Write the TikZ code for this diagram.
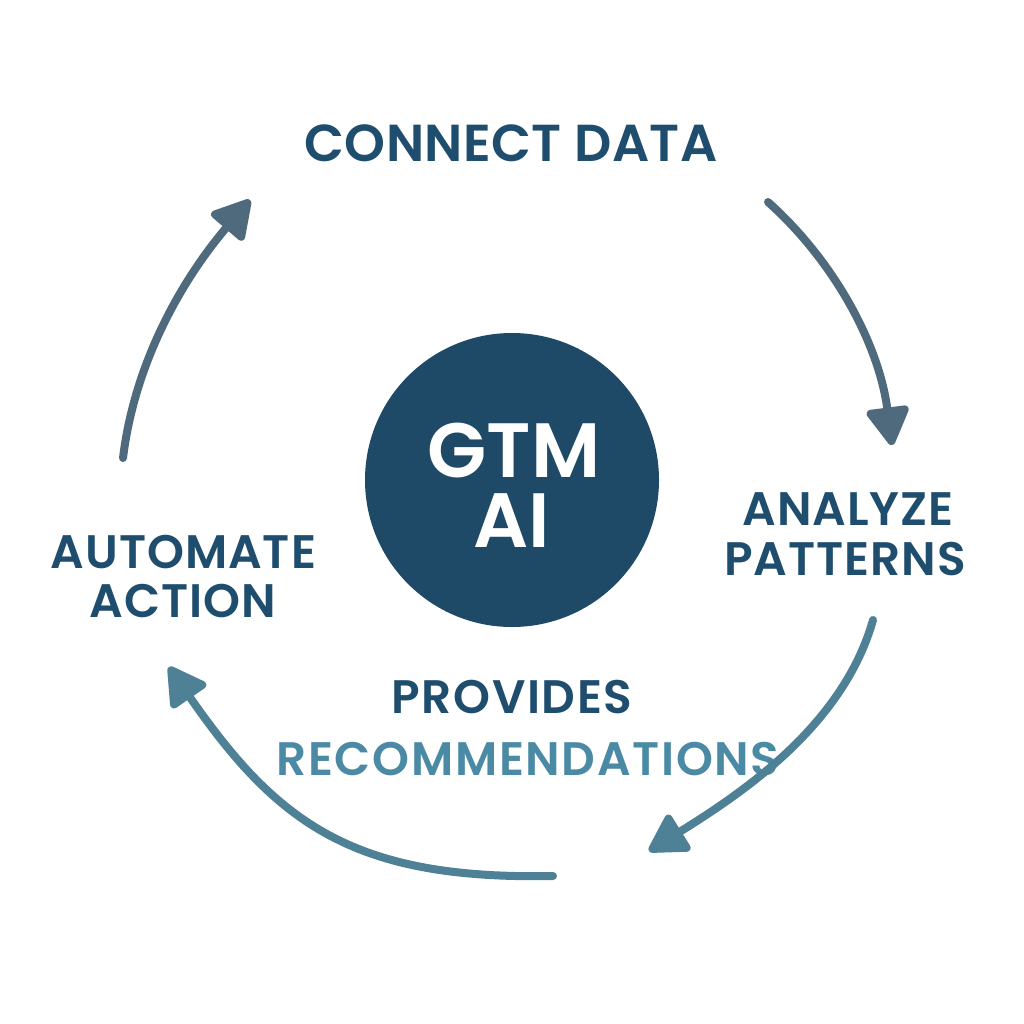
\documentclass[tikz,border=0pt]{standalone}
\usepackage{fontspec}
\setmainfont{Poppins}[UprightFont=* SemiBold]
\usetikzlibrary{arrows.meta}
\definecolor{navy}{HTML}{1F4D6E}
\definecolor{circ}{HTML}{1F4A67}
\definecolor{teal}{HTML}{4A8AA5}
\definecolor{arrgray}{HTML}{4F6A7C}
\definecolor{arrteal}{HTML}{4E8196}
\tikzset{
  lbl/.style={anchor=base, inner sep=0pt, text=navy, font=\fontsize{47}{50}\selectfont\addfontfeatures{LetterSpace=2}},
  widelbl/.style={lbl, font=\fontsize{47}{50}\selectfont\addfontfeatures{LetterSpace=3.5}},
  cyc/.style={line width=8pt, line cap=round, -{Triangle[length=42pt,width=46pt,round]}},
}
\begin{document}
\begin{tikzpicture}[x=1pt,y=-1pt]
\useasboundingbox (0,0) rectangle (1024,1024);
\fill[white] (0,0) rectangle (1024,1024);
\node[circle, fill=circ, minimum size=294pt, inner sep=0pt] (hub) at (512,480) {};
\node[anchor=base, inner sep=0pt, text=white, font=\fontsize{77}{80}\selectfont] (gtm) at (514,477) {GTM};
\node[anchor=base, inner sep=0pt, text=white, font=\fontsize{77}{80}\selectfont] (ai) at (512,547) {AI};
\node[lbl, font=\fontsize{52}{55}\selectfont\addfontfeatures{LetterSpace=0.8}] (connect) at (511,162) {CONNECT DATA};
\node[lbl] (analyze) at (848,525) {ANALYZE};
\node[lbl] (patterns) at (845,575) {PATTERNS};
\node[lbl] (automate) at (183.5,568) {AUTOMATE};
\node[lbl] (action) at (183,617) {ACTION};
\node[widelbl] (provides) at (512,713) {PROVIDES};
\node[widelbl, text=teal] (recs) at (528,775) {RECOMMENDATIONS};
\coordinate (a1s) at (768,202); \coordinate (a1e) at (892,445);
\coordinate (a2s) at (873,620); \coordinate (a2e) at (649,851);
\coordinate (a3s) at (553,876); \coordinate (a3e) at (169,667);
\coordinate (a4s) at (123,458); \coordinate (a4e) at (250,200);
\draw[cyc, arrgray] (a1s) .. controls (835,262) and (879,345) .. (a1e);
\draw[cyc, arrteal] (a2s) .. controls (843,726) and (742,793) .. (a2e);
\draw[cyc, arrteal] (a3s) .. controls (353,880) and (277,823) .. (a3e);
\draw[cyc, arrgray] (a4s) .. controls (135,359) and (185,276) .. (a4e);
\end{tikzpicture}
\end{document}
